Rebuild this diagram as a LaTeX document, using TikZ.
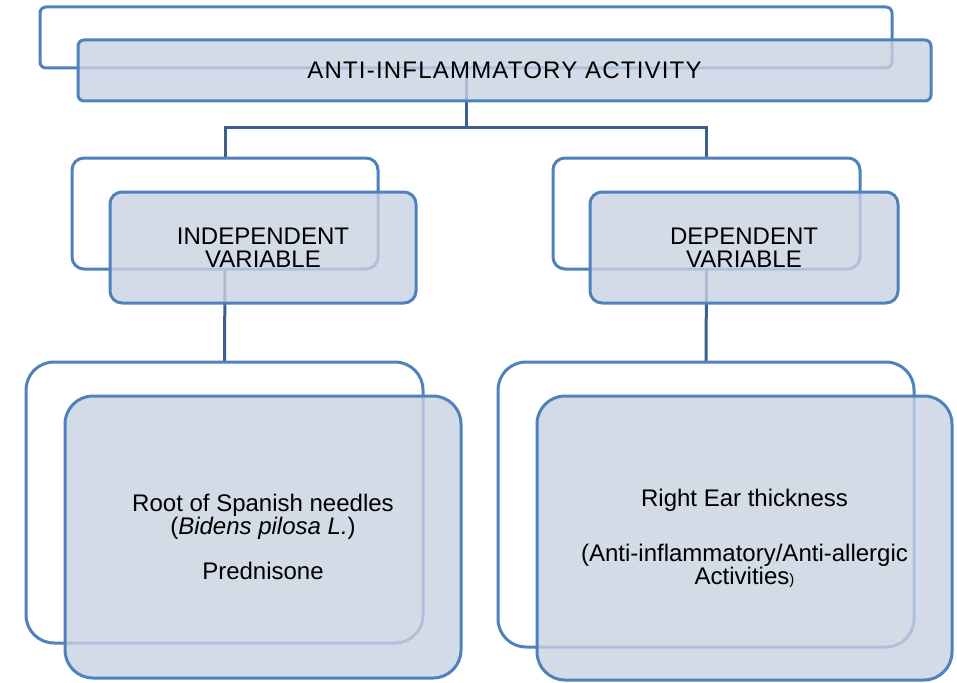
\documentclass[tikz,border=0pt]{standalone}
\usepackage{fontspec}
\setmainfont{Liberation Sans}
\definecolor{frameblue}{RGB}{79,129,189}
\definecolor{connblue}{RGB}{60,95,142}
\definecolor{boxfill}{RGB}{200,210,226}
\begin{document}
\begin{tikzpicture}[x=1pt,y=-1pt,
  backbox/.style={draw=frameblue,line width=3pt,fill=white,inner sep=0pt},
  frontbox/.style={draw=frameblue,line width=3pt,fill=boxfill,fill opacity=0.8,text opacity=1,inner sep=0pt,align=center,font=\fontsize{24}{23}\selectfont},
  conn/.style={draw=connblue,line width=3pt}]
\useasboundingbox (0,0) rectangle (957,682);
% anchor positions of back frames
\path node[inner sep=0pt,minimum width=852pt,minimum height=61pt] (topback) at (466,37.5) {};
\path node[inner sep=0pt,minimum width=306pt,minimum height=111pt] (lback) at (225,213.5) {};
\path node[inner sep=0pt,minimum width=307pt,minimum height=111pt] (rback) at (706.5,213.5) {};
\path node[inner sep=0pt,minimum width=397pt,minimum height=281pt] (llback) at (224.5,502.5) {};
\path node[inner sep=0pt,minimum width=416pt,minimum height=285pt] (rrback) at (706,504.5) {};
% connectors
\draw[conn] (topback.south) -- ++(0,59) -| (lback.north);
\draw[conn] (topback.south) -- ++(0,59) -| (rback.north);
\draw[conn] (lback.south) -- (llback.north);
\draw[conn] (rback.south) -- (rrback.north);
% back frames drawn
\node[backbox,rounded corners=6pt,minimum width=852pt,minimum height=61pt] (topbackv) at (466,37.5) {};
\node[backbox,rounded corners=12pt,minimum width=306pt,minimum height=111pt] (lbackv) at (225,213.5) {};
\node[backbox,rounded corners=12pt,minimum width=307pt,minimum height=111pt] (rbackv) at (706.5,213.5) {};
\node[backbox,rounded corners=28pt,minimum width=397pt,minimum height=281pt] (llbackv) at (224.5,502.5) {};
\node[backbox,rounded corners=28pt,minimum width=416pt,minimum height=285pt] (rrbackv) at (706,504.5) {};
% front boxes
\node[frontbox,rounded corners=6pt,minimum width=853pt,minimum height=61pt] (top) at (504.5,70.5) {\addfontfeatures{LetterSpace=5}ANTI-INFLAMMATORY ACTIVITY};
\node[frontbox,rounded corners=12pt,minimum width=306pt,minimum height=111pt] (lmid) at (263,247.5) {INDEPENDENT\\VARIABLE};
\node[frontbox,rounded corners=12pt,minimum width=308pt,minimum height=111pt] (rmid) at (744,247.5) {DEPENDENT\\VARIABLE};
\node[frontbox,rounded corners=28pt,minimum width=396pt,minimum height=282pt] (lbot) at (263,537) {Root of Spanish needles\\(\textit{Bidens pilosa L.})\\[22pt]Prednisone};
\node[frontbox,rounded corners=28pt,minimum width=415pt,minimum height=284pt] (rbot) at (744.5,538) {Right Ear thickness\\[32pt](Anti-inflammatory/Anti-allergic\\Activities{\fontsize{15}{15}\selectfont)}};
\end{tikzpicture}
\end{document}
